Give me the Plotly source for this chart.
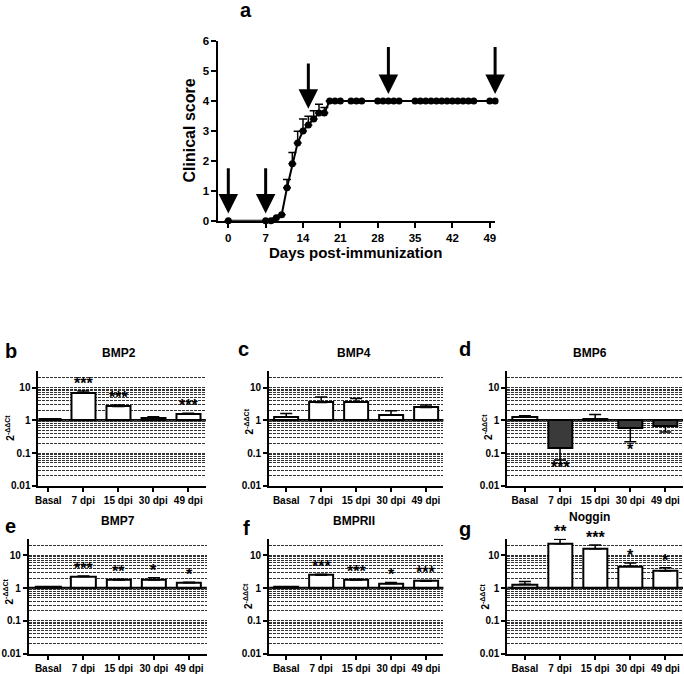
import numpy as np
import plotly.graph_objects as go

# -- panel a: clinical score ------------------------------------------------
days = [0, 7, 8, 9, 10, 11, 12, 13, 14, 15, 16, 17, 18, 19, 20, 21,
        23, 24, 25, 28, 29, 30, 31, 32,
        35, 36, 37, 38, 39, 40, 41, 42, 43, 44, 45, 46, 49, 50]
score = [0, 0, 0, 0.1, 0.2, 1.1, 1.9, 2.6, 3.0, 3.2, 3.4, 3.6, 3.6, 4, 4, 4,
         4, 4, 4, 4, 4, 4, 4, 4,
         4, 4, 4, 4, 4, 4, 4, 4, 4, 4, 4, 4, 4, 4]
score_sem = [0, 0, 0, 0, 0, 0.28, 0.38, 0.39, 0.4, 0.29, 0.27, 0.29, 0.18, 0, 0, 0,
             0, 0, 0, 0, 0, 0, 0, 0,
             0, 0, 0, 0, 0, 0, 0, 0, 0, 0, 0, 0, 0, 0]
arrow_days = [0, 7, 15, 30, 50]
arrow_tip = [0.24, 0.24, 3.74, 4.23, 4.23]
arrow_top = [1.8, 1.8, 5.3, 5.85, 5.85]

# -- panels b-g: qPCR fold change (2^-ddCt) ---------------------------------
categories = ["Basal", "7 dpi", "15 dpi", "30 dpi", "49 dpi"]

bmp2 = [1.07, 6.9, 2.63, 1.17, 1.55]
bmp2_err = [1.1, 7.8, 2.95, 1.29, 1.65]
bmp2_sig = ["", "***", "***", "", "***"]

bmp4 = [1.29, 3.47, 3.55, 1.48, 2.45]
bmp4_err = [1.62, 5.1, 4.6, 1.95, 2.95]
bmp4_sig = ["", "", "", "", ""]

bmp6 = [1.23, 0.145, 1.1, 0.59, 0.66]
bmp6_err = [1.38, 0.062, 1.51, 0.22, 0.44]
bmp6_sig = ["", "***", "", "*", ""]

bmp7 = [1.07, 2.24, 1.74, 1.74, 1.45]
bmp7_err = [1.1, 2.34, 1.86, 2.04, 1.51]
bmp7_sig = ["", "***", "**", "*", "*"]

bmpr2 = [1.07, 2.45, 1.74, 1.38, 1.62]
bmpr2_err = [1.1, 2.63, 1.86, 1.48, 1.7]
bmpr2_sig = ["", "***", "***", "*", "***"]

noggin = [1.29, 22.4, 15.8, 4.57, 3.3]
noggin_err = [1.58, 30.9, 20.4, 5.75, 4.17]
noggin_sig = ["", "**", "***", "*", "*"]

W, H = 684, 674
FONT = "Arial, Liberation Sans, sans-serif"


def px_x(x):
    return x / W


def px_y(y):
    return 1 - y / H


def label(text, x, y, size, angle=0):
    return dict(text=text, x=px_x(x), y=px_y(y), xref="paper", yref="paper",
                xanchor="center", yanchor="middle", textangle=angle,
                showarrow=False,
                font=dict(family=FONT, size=size, color="black", weight="bold"))


panels = [
    # letter, title, values, error ends, stars, x px span, y px span, x start,
    # letter pos, title pos, y-title pos
    ("b", "BMP2", bmp2, bmp2_err, bmp2_sig, (35.7, 204), (372.3, 489.3), -0.28, (8, 352), (117, 354), (7, 430)),
    ("c", "BMP4", bmp4, bmp4_err, bmp4_sig, (267.7, 443), (372.3, 489.3), -0.49, (242, 350), (353, 354), (247, 424)),
    ("d", "BMP6", bmp6, bmp6_err, bmp6_sig, (507.3, 684), (372.3, 489.3), -0.5, (465, 350), (590, 354), (487, 429)),
    ("e", "BMP7", bmp7, bmp7_err, bmp7_sig, (26, 205), (543.3, 660.3), -0.55, (8, 530), (116, 525), (6, 597)),
    ("f", "BMPRII", bmpr2, bmpr2_err, bmpr2_sig, (267.7, 443), (543.3, 660.3), -0.49, (245, 532), (353, 525), (247, 602)),
    ("g", "Noggin", noggin, noggin_err, noggin_sig, (507.3, 684), (543.3, 660.3), -0.5, (465, 533), (590, 521), (485, 602)),
]

fig = go.Figure()
annotations = []
shapes = []

# panel a
fig.add_trace(go.Scatter(
    x=days, y=score, mode="lines+markers",
    line=dict(color="black", width=2),
    marker=dict(color="black", size=7),
    error_y=dict(type="data", symmetric=False, array=score_sem,
                 arrayminus=[0] * len(score_sem), color="black",
                 thickness=1.5, width=4),
    cliponaxis=False, showlegend=False,
    xaxis="x", yaxis="y",
))

axis_a = dict(showline=True, linecolor="black", linewidth=2, ticks="outside",
              ticklen=5, tickwidth=2, tickcolor="black", showgrid=False,
              zeroline=False,
              tickfont=dict(family=FONT, size=11.5, color="black", weight="bold"))
fig.update_layout(
    xaxis=dict(domain=[px_x(216.7), px_x(495)], range=[-1.85, 50.0],
               tickmode="array", tickvals=[0, 7, 14, 21, 28, 35, 42, 49],
               anchor="y", **axis_a),
    yaxis=dict(domain=[px_y(219), px_y(35.7)], range=[0, 6], dtick=1,
               anchor="x", **axis_a),
)
for d, tip, top in zip(arrow_days, arrow_tip, arrow_top):
    annotations.append(dict(
        x=d, y=tip, ax=d, ay=top, xref="x", yref="y", axref="x", ayref="y",
        text="", showarrow=True, arrowhead=2, arrowsize=1.3, arrowwidth=3,
        arrowcolor="black",
    ))
annotations += [
    label("a", 244, 4, 20),
    label("Clinical score", 188, 127, 16, angle=-90),
    label("Days post-immunization", 355, 251, 15),
]

# panels b-g
for i, (letter, title, vals, ends, sig, xs, ys, x0, lpos, tpos, ypos) in enumerate(panels, start=2):
    xa, ya = f"x{i}", f"y{i}"
    vals = np.array(vals)
    ends = np.array(ends)
    up = np.where(ends > vals, ends - vals, 0)
    down = np.where(ends < vals, vals - ends, 0)
    fill = ["white" if v >= 1 else "#3a3a3a" for v in vals]
    fig.add_trace(go.Bar(
        x=categories, y=vals - 1, base=1, width=0.69,
        marker=dict(color=fill, line=dict(color="black", width=2)),
        error_y=dict(type="data", symmetric=False, array=up, arrayminus=down,
                     color="black", thickness=1.5, width=6),
        showlegend=False, xaxis=xa, yaxis=ya,
    ))
    fig.update_layout({
        f"xaxis{i}": dict(
            domain=[px_x(xs[0]), px_x(xs[1])], range=[x0, 4.5], anchor=ya,
            showline=True, linecolor="black", linewidth=2, ticks="outside",
            ticklen=4, tickwidth=1.5, tickcolor="black", showgrid=False,
            tickfont=dict(family=FONT, size=10, color="black", weight="bold"),
        ),
        f"yaxis{i}": dict(
            domain=[px_y(ys[1]), px_y(ys[0])], type="log", range=[-2, 1.5],
            anchor=xa, dtick=1, showline=True, linecolor="black", linewidth=2,
            ticks="outside", ticklen=4, tickwidth=1.5, tickcolor="black",
            showgrid=True, gridcolor="#333", griddash="3px,1px", gridwidth=1,
            zeroline=False,
            tickfont=dict(family=FONT, size=10, color="black", weight="bold"),
            minor=dict(dtick="D1", showgrid=True, gridcolor="#333",
                       griddash="3px,1px", gridwidth=1, ticks=""),
        ),
    })
    shapes.append(dict(type="line", xref=f"{xa} domain", yref=ya, x0=0, x1=1,
                       y0=1, y1=1, line=dict(color="black", width=2.5), layer="below"))
    for c, s, v, e in zip(categories, sig, vals, ends):
        if not s:
            continue
        above = v >= 1
        annotations.append(dict(
            text=s, x=c, y=np.log10(e), xref=xa, yref=ya, showarrow=False,
            xanchor="center", yanchor="bottom" if above else "top",
            yshift=-3 if above else 3,
            font=dict(family=FONT, size=16, color="black", weight="bold"),
        ))
    annotations += [
        label(letter, lpos[0], lpos[1], 20),
        label(title, tpos[0], tpos[1], 12),
        label("2<sup>-ΔΔCt</sup>", ypos[0], ypos[1], 10, angle=-90),
    ]

fig.update_layout(
    width=W, height=H, margin=dict(l=0, r=0, t=0, b=0),
    paper_bgcolor="white", plot_bgcolor="white",
    annotations=annotations, shapes=shapes, bargap=0,
)

# the page's default body margin would shift the figure by 8px
fig.write_html("out.html", config={"displayModeBar": False},
               post_script="document.body.style.margin = '0px';")
